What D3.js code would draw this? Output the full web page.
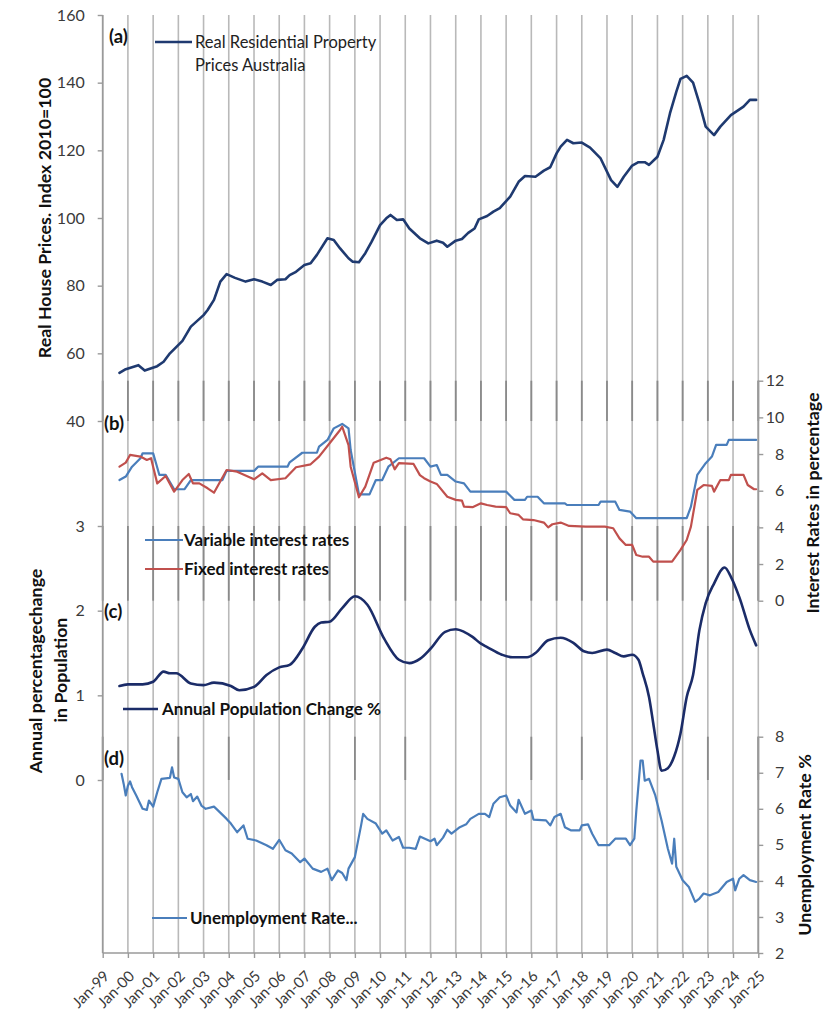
<!DOCTYPE html>
<html><head><meta charset="utf-8">
<script src="https://cdn.jsdelivr.net/npm/d3@7"></script>
<style>
body{margin:0;background:#fff;}
svg{display:block;font-family:Lato,"Open Sans",sans-serif;}
</style></head><body>
<svg id="chart" width="840" height="1024"></svg>
<script>
// ---------- DATA ----------
const axisStart = "1999-01", axisEnd = "2025-01";
const priceTicks = [40, 60, 80, 100, 120, 140, 160];
const popTicks = [0, 1, 2, 3];
const rateTicks = [0, 2, 4, 6, 8, 10, 12];
const unempTicks = [2, 3, 4, 5, 6, 7, 8];

const priceDates = ["1999-09","1999-12","2000-06","2000-09","2001-03","2001-06","2001-09","2002-03","2002-07","2003-01","2003-03","2003-06","2003-09","2003-12","2004-04","2004-09","2005-01","2005-05","2005-09","2005-12","2006-04","2006-06","2006-09","2007-01","2007-04","2007-07","2007-12","2008-03","2008-06","2008-10","2008-12","2009-03","2009-06","2009-09","2010-01","2010-04","2010-06","2010-09","2010-12","2011-03","2011-08","2011-12","2012-04","2012-07","2012-09","2013-01","2013-04","2013-07","2013-10","2013-12","2014-04","2014-07","2014-10","2015-03","2015-07","2015-10","2016-03","2016-07","2016-10","2017-01","2017-03","2017-06","2017-09","2018-01","2018-05","2018-10","2019-03","2019-06","2019-09","2020-01","2020-04","2020-07","2020-09","2021-01","2021-04","2021-07","2021-10","2021-12","2022-03","2022-06","2022-09","2022-12","2023-04","2023-07","2023-12","2024-06","2024-09","2024-12"];
const priceValues = [54.2,55.3,56.5,54.9,56.2,57.5,60,63.7,67.9,71.3,72.8,75.8,81.2,83.4,82.3,81.2,81.9,81.2,80.2,81.7,81.9,83.1,84.1,86.1,86.6,89.1,94,93.5,91,88.1,87.1,86.9,89.6,93,97.9,99.9,100.9,99.4,99.6,96.9,94,92.5,93.3,92.7,91.5,93.3,93.8,95.6,96.9,99.6,100.6,101.9,102.9,106.3,110.7,112.4,112.2,114,115,119.1,121.1,123.1,122.1,122.3,120.8,117.6,111.2,109.2,112.2,115.5,116.5,116.5,115.7,118.1,123.1,130.9,137.3,141.1,142,140,133.9,127,124.5,127,130.4,132.9,134.9,134.9];

const variableDates = ["1999-09","1999-12","2000-03","2000-07","2000-08","2001-01","2001-04","2001-07","2001-11","2002-04","2002-07","2003-10","2003-12","2005-01","2005-03","2006-05","2006-06","2006-12","2007-07","2007-08","2007-12","2008-03","2008-07","2008-10","2008-11","2009-03","2009-08","2009-11","2010-02","2010-05","2010-10","2011-10","2012-01","2012-04","2012-06","2012-09","2013-01","2013-05","2013-08","2015-01","2015-05","2015-10","2015-11","2016-04","2016-07","2017-05","2017-06","2018-09","2018-10","2019-05","2019-07","2019-12","2020-03","2022-03","2022-05","2022-08","2022-12","2023-03","2023-05","2023-10","2023-11","2024-12"];
const variableRates = [6.58,6.77,7.31,7.77,8.04,8.04,6.86,6.86,6.08,6.08,6.58,6.58,7.08,7.08,7.31,7.31,7.55,8.07,8.07,8.4,8.77,9.4,9.64,9.4,8.22,5.8,5.8,6.58,6.58,7.31,7.77,7.77,7.31,7.4,6.86,6.86,6.5,6.4,5.95,5.95,5.5,5.5,5.67,5.67,5.31,5.31,5.22,5.22,5.4,5.4,4.95,4.86,4.5,4.5,5.13,6.86,7.5,7.86,8.5,8.5,8.77,8.77];

const fixedDates = ["1999-09","1999-12","2000-02","2000-07","2000-10","2000-12","2001-03","2001-07","2001-11","2002-03","2002-06","2002-08","2002-11","2003-03","2003-06","2003-12","2004-05","2005-01","2005-05","2005-09","2006-04","2006-09","2007-04","2007-08","2008-01","2008-06","2008-07","2008-10","2008-11","2009-03","2009-06","2009-10","2010-04","2010-06","2010-08","2010-10","2011-05","2011-08","2011-10","2012-01","2012-04","2012-09","2013-01","2013-04","2013-05","2013-09","2014-01","2014-04","2014-08","2015-01","2015-03","2015-07","2015-09","2016-02","2016-07","2016-09","2016-11","2017-03","2017-07","2018-03","2018-12","2019-04","2019-07","2019-10","2020-01","2020-03","2020-06","2020-09","2020-11","2021-08","2021-12","2022-03","2022-05","2022-08","2022-11","2023-03","2023-04","2023-07","2023-11","2023-12","2024-06","2024-08","2024-11","2024-12"];
const fixedRates = [7.31,7.53,7.95,7.86,7.68,7.77,6.4,6.8,5.95,6.58,6.91,6.4,6.4,6.13,5.89,7.13,7.04,6.62,6.95,6.58,6.68,7.28,7.44,7.86,8.59,9.31,9.49,8.49,7.31,5.64,6.22,7.53,7.8,7.71,7.17,7.5,7.46,6.85,6.68,6.5,6.37,5.67,5.5,5.46,5.13,5.1,5.31,5.22,5.13,5.1,4.77,4.68,4.44,4.4,4.26,4.0,4.17,4.26,4.08,4.04,4.04,3.95,3.4,3.04,3.04,2.49,2.4,2.4,2.13,2.13,2.77,3.31,4.04,6.04,6.31,6.26,5.95,6.58,6.58,6.86,6.86,6.31,6.08,6.08];

const popDates = ["1999-09","2000-01","2000-08","2001-01","2001-06","2001-09","2001-12","2002-07","2003-01","2003-06","2004-02","2004-06","2005-01","2005-07","2006-01","2006-06","2006-12","2007-06","2007-09","2008-01","2008-07","2009-01","2009-07","2010-03","2010-10","2011-03","2011-08","2012-01","2012-08","2013-01","2013-05","2013-09","2014-01","2014-04","2014-11","2015-04","2015-11","2016-03","2016-09","2017-03","2017-09","2018-02","2018-06","2019-01","2019-05","2019-09","2020-01","2020-04","2020-06","2020-09","2020-11","2021-01","2021-03","2021-06","2021-09","2021-12","2022-03","2022-06","2022-09","2022-12","2023-04","2023-09","2023-12","2024-04","2024-09","2024-12"];
const popChange = [1.11,1.13,1.13,1.16,1.28,1.26,1.26,1.14,1.12,1.15,1.11,1.06,1.10,1.24,1.33,1.36,1.55,1.81,1.86,1.87,2.03,2.17,2.07,1.67,1.42,1.38,1.43,1.55,1.75,1.78,1.75,1.69,1.61,1.57,1.48,1.45,1.45,1.50,1.65,1.68,1.62,1.52,1.50,1.54,1.50,1.46,1.48,1.42,1.26,0.98,0.67,0.35,0.11,0.14,0.28,0.55,0.98,1.24,1.77,2.09,2.32,2.51,2.40,2.16,1.77,1.59];

const unempDates = ["1999-10","1999-11","1999-12","2000-01","2000-02","2000-03","2000-05","2000-08","2000-10","2000-11","2001-01","2001-03","2001-05","2001-09","2001-10","2001-11","2002-01","2002-03","2002-05","2002-07","2002-08","2002-10","2002-12","2003-02","2003-06","2003-08","2003-12","2004-02","2004-05","2004-08","2004-10","2005-02","2005-07","2005-10","2006-01","2006-04","2006-07","2006-11","2007-01","2007-05","2007-09","2007-12","2008-02","2008-05","2008-07","2008-09","2008-10","2009-01","2009-04","2009-05","2009-07","2009-11","2010-02","2010-04","2010-07","2010-10","2010-12","2011-03","2011-06","2011-08","2012-01","2012-03","2012-04","2012-07","2012-09","2012-11","2013-03","2013-06","2013-08","2013-12","2014-03","2014-05","2014-07","2014-10","2015-01","2015-03","2015-06","2015-07","2015-10","2016-01","2016-02","2016-08","2016-10","2016-12","2017-03","2017-05","2017-08","2017-12","2018-01","2018-04","2018-06","2018-09","2019-02","2019-05","2019-10","2019-12","2020-02","2020-03","2020-05","2020-06","2020-07","2020-09","2020-12","2021-03","2021-06","2021-08","2021-09","2021-10","2022-01","2022-04","2022-07","2022-09","2022-11","2023-02","2023-06","2023-08","2023-10","2024-01","2024-02","2024-04","2024-06","2024-09","2024-12"];
const unempRate = [6.97,6.69,6.37,6.64,6.76,6.6,6.37,6.0,5.97,6.23,6.06,6.46,6.83,6.86,7.15,6.87,6.83,6.46,6.32,6.41,6.21,6.34,6.09,6.0,6.06,5.95,5.72,5.59,5.35,5.54,5.17,5.12,4.99,4.89,5.14,4.85,4.76,4.52,4.62,4.34,4.25,4.34,4.02,4.29,4.22,4.02,4.34,4.66,5.54,5.86,5.72,5.59,5.31,5.4,5.12,5.22,4.92,4.92,4.89,5.23,5.1,5.17,4.99,5.2,5.42,5.31,5.49,5.57,5.72,5.86,5.86,5.77,6.14,6.32,6.37,6.09,5.9,6.25,5.86,5.95,5.7,5.68,5.54,5.77,5.86,5.49,5.4,5.4,5.54,5.57,5.31,4.99,4.99,5.17,5.17,4.99,5.17,5.95,7.34,7.34,6.78,6.83,6.37,5.68,4.89,4.48,5.17,4.39,4.02,3.83,3.42,3.51,3.65,3.6,3.69,3.83,3.97,4.06,3.74,4.06,4.16,4.02,3.97];

// ---------- LAYOUT ----------
const parse = d3.timeParse("%Y-%m");
const X0 = 102.7, X1 = 758.3, YT = 15, YB = 953;
const svg = d3.select("#chart");

const x = d3.scaleTime().domain([parse(axisStart), parse(axisEnd)]).range([X0, X1]);
const yPrice = d3.scaleLinear().domain([40, 160]).range([421, 15]);
const yPop = d3.scaleLinear().domain([0, 3]).range([780, 526]);
const yRate = d3.scaleLinear().domain([0, 12]).range([600.7, 380.7]);
const yUnemp = d3.scaleLinear().domain([2, 8]).range([953, 736.7]);

const navy = "#1f3a70", navy2 = "#1b2c68", blue = "#4a7ebb", red = "#c0504d";
const tickColor = "#3a3a3a", gridColor = "#b9b9b9", darkGrid = "#8a8a8a", axisColor = "#9a9a9a";
const font = "Lato, 'Open Sans', sans-serif";

// ---------- GRID ----------
const years = x.ticks(d3.timeYear.every(1));
const grid = svg.append("g");
grid.selectAll("line.g").data(years).join("line")
  .attr("x1", d => x(d)).attr("x2", d => x(d))
  .attr("y1", YT).attr("y2", YB)
  .attr("stroke", gridColor).attr("stroke-width", 1.6);
const bands = [
  {y1: yRate(12), y2: yPrice(40), sel: () => true},
  {y1: yPop(3), y2: yRate(0), sel: () => true},
  {y1: yUnemp(8), y2: yPop(0), sel: d => [1999, 2002, 2004, 2009, 2011, 2016, 2018, 2023, 2025].includes(d.getFullYear())}
];
bands.forEach(b => {
  grid.selectAll(null).data(years.filter(b.sel)).join("line")
    .attr("x1", d => x(d)).attr("x2", d => x(d))
    .attr("y1", b.y1).attr("y2", b.y2)
    .attr("stroke", darkGrid).attr("stroke-width", 1.8);
});

// ---------- AXES ----------
function styleAxis(g) {
  g.select(".domain").remove();
  g.selectAll(".tick line").attr("stroke", axisColor).attr("stroke-width", 1.4);
  g.selectAll(".tick text").attr("fill", tickColor).style("font-size", "16px")
    .style("font-family", font);
}
const fmt = d3.format("d");
svg.append("line").attr("x1", X0).attr("x2", X0).attr("y1", YT).attr("y2", YB)
  .attr("stroke", axisColor).attr("stroke-width", 1.6);
svg.append("g").attr("transform", `translate(${X0},0)`)
  .call(d3.axisLeft(yPrice).tickValues(priceTicks).tickFormat(fmt).tickSize(5).tickSizeOuter(0))
  .call(styleAxis).selectAll(".tick text").attr("x", -18);
svg.append("g").attr("transform", `translate(${X0},0)`)
  .call(d3.axisLeft(yPop).tickValues(popTicks).tickFormat(fmt).tickSize(5).tickSizeOuter(0))
  .call(styleAxis).selectAll(".tick text").attr("x", -18);

svg.append("line").attr("x1", X1).attr("x2", X1).attr("y1", yRate(12)).attr("y2", yRate(0))
  .attr("stroke", axisColor).attr("stroke-width", 1.8);
svg.append("g").attr("transform", `translate(${X1},0)`)
  .call(d3.axisRight(yRate).tickValues(rateTicks).tickFormat(fmt).tickSize(5).tickSizeOuter(0))
  .call(styleAxis).selectAll(".tick text").attr("x", 26).attr("text-anchor", "end");
svg.append("line").attr("x1", X1).attr("x2", X1).attr("y1", yUnemp(8)).attr("y2", yUnemp(2))
  .attr("stroke", axisColor).attr("stroke-width", 1.8);
svg.append("g").attr("transform", `translate(${X1},0)`)
  .call(d3.axisRight(yUnemp).tickValues(unempTicks).tickFormat(fmt).tickSize(5).tickSizeOuter(0))
  .call(styleAxis).selectAll(".tick text").attr("x", 26).attr("text-anchor", "end");

svg.append("line").attr("x1", X0).attr("x2", X1).attr("y1", YB).attr("y2", YB)
  .attr("stroke", axisColor).attr("stroke-width", 1.6);
const xa = svg.append("g").attr("transform", `translate(0,${YB})`)
  .call(d3.axisBottom(x).ticks(d3.timeYear.every(1)).tickFormat(d3.timeFormat("%b-%y")).tickSize(5).tickSizeOuter(0))
  .call(styleAxis);
xa.selectAll(".tick text").style("font-size", "15px")
  .attr("text-anchor", "end").attr("y", 0).attr("dy", 0)
  .attr("transform", "translate(7,24) rotate(-45)");

// ---------- SERIES ----------
function drawSeries(dates, vals, yScale, color, width, curve) {
  const pts = dates.map((d, i) => [parse(d), vals[i]]);
  svg.append("path").datum(pts)
    .attr("fill", "none").attr("stroke", color).attr("stroke-width", width)
    .attr("stroke-linejoin", "round").attr("stroke-linecap", "round")
    .attr("d", d3.line().x(p => x(p[0])).y(p => yScale(p[1])).curve(curve));
}
drawSeries(priceDates, priceValues, yPrice, navy, 2.6, d3.curveLinear);
drawSeries(variableDates, variableRates, yRate, blue, 2.2, d3.curveLinear);
drawSeries(fixedDates, fixedRates, yRate, red, 2.2, d3.curveLinear);
drawSeries(popDates, popChange, yPop, navy2, 2.6, d3.curveMonotoneX);
drawSeries(unempDates, unempRate, yUnemp, blue, 2.2, d3.curveLinear);

// ---------- TEXT ----------
function txt(s, xx, yy, opts = {}) {
  const t = svg.append("text").attr("x", xx).attr("y", yy).text(s)
    .style("font-family", font).style("font-size", (opts.size || 15) + "px")
    .style("font-weight", opts.bold ? "700" : "400")
    .attr("fill", opts.fill || "#111")
    .attr("text-anchor", opts.anchor || "start");
  if (opts.rot) t.attr("transform", `rotate(${opts.rot},${xx},${yy})`);
  return t;
}
txt("(a)", 109, 43, {bold: true, size: 18.5});
txt("(b)", 104, 430, {bold: true, size: 18.5});
txt("(c)", 104, 618, {bold: true, size: 18.5});
txt("(d)", 104, 765, {bold: true, size: 18.5});

txt("Real House Prices. Index 2010=100", 51, 218, {bold: true, size: 17.8, anchor: "middle", rot: -90});
txt("Annual percentagechange", 42, 671, {bold: true, size: 17.8, anchor: "middle", rot: -90});
txt("in Population", 67, 670, {bold: true, size: 17.8, anchor: "middle", rot: -90});
txt("Interest Rates in percentage", 819, 503, {bold: true, size: 17.8, anchor: "middle", rot: -90});
txt("Unemployment Rate %", 811, 845, {bold: true, size: 17.8, anchor: "middle", rot: -90});

function legendLine(x1, x2, yy, color, w) {
  svg.append("line").attr("x1", x1).attr("x2", x2).attr("y1", yy).attr("y2", yy)
    .attr("stroke", color).attr("stroke-width", w);
}
legendLine(155, 192, 42, navy, 2.6);
txt("Real Residential Property", 195, 48, {size: 16.5, fill: "#222"});
txt("Prices Australia", 195, 71, {size: 16.5, fill: "#222"});
legendLine(145, 183, 540, blue, 2.2);
txt("Variable interest rates", 184, 546, {bold: true, size: 17});
legendLine(145, 183, 569, red, 2.2);
txt("Fixed interest rates", 184, 575, {bold: true, size: 17});
legendLine(123, 158, 709, navy2, 2.6);
txt("Annual Population Change %", 162, 715, {bold: true, size: 17});
legendLine(152, 187, 918, blue, 2.2);
txt("Unemployment Rate...", 190, 924, {bold: true, size: 17});
</script>
</body></html>
